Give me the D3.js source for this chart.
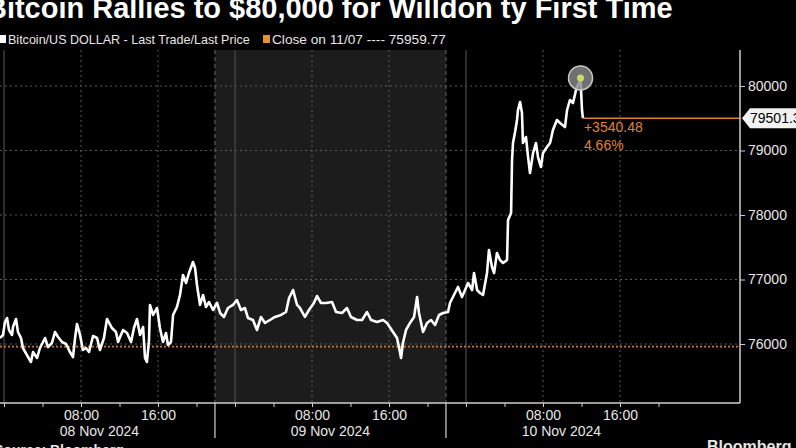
<!DOCTYPE html>
<html><head><meta charset="utf-8">
<script src="https://cdn.jsdelivr.net/npm/d3@7"></script>
<style>html,body{margin:0;padding:0;background:#000;overflow:hidden}</style>
</head><body><svg id="c" width="796" height="448"></svg>
<script>
const title = "Bitcoin Rallies to $80,000 for Willdon ty First Time";
const seriesName = "Bitcoin/US DOLLAR - Last Trade/Last Price";
const closeLabel = "Close on 11/07 ---- 75959.77";
const closeValue = 75959.77;
const changeAbs = "+3540.48";
const changePct = "4.66%";
const yTicks = [76000, 77000, 78000, 79000, 80000];
const dayLabels = ["08 Nov 2024", "09 Nov 2024", "10 Nov 2024"];
const dayStarts = ["2024-11-07T21:55:00Z", "2024-11-08T21:55:00Z", "2024-11-09T21:55:00Z"];
const dayEnds = ["2024-11-08T21:55:00Z", "2024-11-09T21:55:00Z", "2024-11-10T21:55:00Z"];
const shadedDay = 1;
const startISO = "2024-11-08T00:00:00Z";
const minutes = [-25,-6,6,19,31,50,56,75,87,106,118,143,168,181,206,224,256,274,299,318,337,362,387,411,430,443,455,474,492,511,530,555,580,598,623,642,673,698,711,742,767,792,810,829,848,867,879,891,904,910,929,954,972,991,1010,1022,1041,1054,1078,1097,1116,1135,1153,1178,1191,1203,1222,1241,1259,1278,1303,1328,1347,1371,1396,1427,1452,1477,1502,1521,1552,1577,1602,1627,1658,1689,1727,1758,1777,1802,1827,1845,1876,1901,1932,1951,1976,2007,2045,2070,2107,2138,2163,2201,2232,2263,2288,2325,2363,2388,2425,2450,2462,2475,2487,2506,2531,2556,2575,2587,2612,2637,2662,2687,2712,2737,2768,2780,2811,2830,2855,2874,2893,2918,2930,2949,2967,2986,3011,3023,3042,3055,3073,3092,3111,3136,3142,3161,3167,3173,3186,3198,3204,3217,3229,3235,3254,3267,3279,3298,3316,3329,3347,3360,3385,3404,3422,3447,3466,3497,3510,3528,3547,3566,3578,3594,3603,3609];
const prices = [76093,76140,76341,76403,76217,76140,76264,76388,76186,76093,75938,75829,75721,75876,75783,75938,76093,75953,76016,76186,76109,76031,76000,75876,75798,76093,76310,76140,75907,75938,75876,76124,76093,75907,76093,76388,76248,76186,76031,76217,76171,76031,76248,76388,76140,76264,75783,75721,76062,76605,76450,76558,76248,76031,76171,75984,76031,76450,76574,76760,77070,76946,77101,77271,77178,76915,76605,76760,76574,76651,76527,76636,76481,76419,76558,76605,76682,76527,76558,76403,76372,76217,76419,76326,76372,76419,76450,76496,76713,76837,76605,76558,76419,76527,76636,76744,76636,76636,76651,76496,76481,76558,76419,76372,76372,76496,76372,76341,76372,76326,76186,76093,75953,75783,76016,76217,76326,76419,76729,76481,76186,76326,76372,76295,76450,76481,76496,76636,76791,76884,76729,76837,76946,76837,77101,76837,76791,76760,77101,77457,77194,77101,77411,77302,77256,77302,77922,78031,78853,79116,79287,79473,79628,79752,79581,79116,79209,78899,78651,78961,79116,78899,78744,78961,79054,79116,79318,79473,79426,79364,79628,79783,79736,79938,80016,80110,79628,79501.35];

const svg = d3.select("#c");
const W = 796, H = 448;
const plotL = 0, plotR = 740, plotT = 50, plotB = 403;
const t0 = new Date(startISO);
const addMin = (m) => new Date(t0.getTime() + m * 60000);

const x = d3.scaleUtc().domain([t0, addMin(72 * 60)]).range([4, 697]);
const y = d3.scaleLinear().domain([76000, 80000]).range([344, 86]);

const n = Math.min(minutes.length, prices.length);
const data = d3.range(n).map(i => ({t: addMin(minutes[i]), v: prices[i]}));
const FONT = "Liberation Sans, Arial, sans-serif";

svg.append("rect").attr("width", W).attr("height", H).attr("fill", "#000");

// shaded day
svg.append("rect")
  .attr("x", x(new Date(dayStarts[shadedDay]))).attr("y", plotT)
  .attr("width", x(new Date(dayEnds[shadedDay])) - x(new Date(dayStarts[shadedDay])))
  .attr("height", plotB - plotT).attr("fill", "#1c1c1c");

// grid
const g = svg.append("g");
g.selectAll(".hg").data(yTicks).join("line")
  .attr("x1", plotL).attr("x2", plotR).attr("y1", d => y(d)).attr("y2", d => y(d))
  .attr("stroke", "#5a5a5a").attr("stroke-width", 1).attr("stroke-dasharray", "2,3");

const hourTicks = x.ticks(d3.utcHour.every(4)).filter(d => x(d) <= 660);
g.selectAll(".vg").data(hourTicks.filter(d => d.getUTCHours() === 8 || d.getUTCHours() === 16)).join("line")
  .attr("x1", d => x(d)).attr("x2", d => x(d)).attr("y1", plotT).attr("y2", plotB)
  .attr("stroke", "#5a5a5a").attr("stroke-dasharray", "2,3");
g.selectAll(".vm").data(hourTicks.filter(d => d.getUTCHours() === 0)).join("line")
  .attr("x1", d => x(d)).attr("x2", d => x(d)).attr("y1", plotT).attr("y2", plotB)
  .attr("stroke", "#4a4a4a").attr("stroke-width", 1.2);

// day separators
const seps = [dayEnds[0], dayEnds[1]].map(s => x(new Date(s)));
g.selectAll(".sep").data(seps).join("line")
  .attr("x1", d => d).attr("x2", d => d).attr("y1", plotT).attr("y2", plotB)
  .attr("stroke", "#666").attr("stroke-dasharray", "4,3");
g.selectAll(".sep2").data(seps).join("line")
  .attr("x1", d => d).attr("x2", d => d).attr("y1", plotB).attr("y2", 438)
  .attr("stroke", "#aaa").attr("stroke-width", 1.5);

// close reference line
svg.append("line").attr("x1", plotL).attr("x2", plotR)
  .attr("y1", y(closeValue)).attr("y2", y(closeValue))
  .attr("stroke", "#c9782e").attr("stroke-width", 1.6).attr("stroke-dasharray", "2,2");

// series
svg.append("path").datum(data)
  .attr("d", d3.line().x(d => x(d.t)).y(d => y(d.v)))
  .attr("fill", "none").attr("stroke", "#fff").attr("stroke-width", 2.6)
  .attr("stroke-linejoin", "round");

// last value line
const last = data[n - 1];
svg.append("line").attr("x1", x(last.t)).attr("x2", plotR)
  .attr("y1", y(last.v)).attr("y2", y(last.v))
  .attr("stroke", "#d9822b").attr("stroke-width", 1.5);

svg.append("text").attr("x", x(last.t) + 1).attr("y", y(last.v) + 14)
  .attr("fill", "#e0842c").attr("font-family", FONT)
  .attr("font-size", 14).text(changeAbs);
svg.append("text").attr("x", x(last.t) + 1).attr("y", y(last.v) + 32)
  .attr("fill", "#e0842c").attr("font-family", FONT)
  .attr("font-size", 14).text(changePct);

// peak marker
const peak = data.reduce((a, b) => b.v > a.v ? b : a);
svg.append("circle").attr("cx", x(peak.t)).attr("cy", y(peak.v) - 1).attr("r", 12)
  .attr("fill", "rgba(140,140,140,0.8)").attr("stroke", "#c8c8c8").attr("stroke-width", 1.5);
svg.append("circle").attr("cx", x(peak.t)).attr("cy", y(peak.v) - 1).attr("r", 3.5)
  .attr("fill", "#c9dc6a");

// axes lines
svg.append("line").attr("x1", plotL).attr("x2", plotR).attr("y1", plotB).attr("y2", plotB)
  .attr("stroke", "#cfcfcf").attr("stroke-width", 1.5);
svg.append("line").attr("x1", plotR).attr("x2", plotR).attr("y1", plotT).attr("y2", plotB)
  .attr("stroke", "#cfcfcf").attr("stroke-width", 1.5);

// right axis
const yAxis = d3.axisRight(y).tickValues(yTicks).tickSize(5).tickPadding(3).tickFormat(d3.format("d"));
const ya = svg.append("g").attr("transform", `translate(${plotR},0)`).call(yAxis);
ya.select(".domain").remove();
ya.selectAll("line").attr("stroke", "#cfcfcf");
ya.selectAll("text").attr("fill", "#e6e6e6").attr("font-size", 14).attr("font-family", FONT);

// last value tag
const ly = y(last.v);
svg.append("path")
  .attr("d", `M${plotR + 2},${ly} L${plotR + 10},${ly - 10} L${W + 5},${ly - 10} L${W + 5},${ly + 10} L${plotR + 10},${ly + 10} Z`)
  .attr("fill", "#f2f2f2");
svg.append("text").attr("x", plotR + 10).attr("y", ly + 5).attr("fill", "#000")
  .attr("font-size", 14).attr("font-family", FONT)
  .text(d3.format(".2f")(last.v));

// bottom axis
const xAxis = d3.axisBottom(x).tickValues(hourTicks).tickSize(4)
  .tickFormat(d => (d.getUTCHours() === 8 || d.getUTCHours() === 16) ? d3.utcFormat("%H:%M")(d) : "");
const xa = svg.append("g").attr("transform", `translate(0,${plotB})`).call(xAxis);
xa.select(".domain").remove();
xa.selectAll("line").attr("stroke", "#cfcfcf");
xa.selectAll("text").attr("fill", "#e6e6e6").attr("font-size", 14).attr("dy", "0.7em")
  .attr("font-family", FONT);

svg.selectAll(".dl").data(dayLabels).join("text")
  .attr("x", (d, i) => (x(new Date(dayStarts[i])) + x(new Date(dayEnds[i]))) / 2)
  .attr("y", 436).attr("text-anchor", "middle").attr("fill", "#e6e6e6")
  .attr("font-size", 14).attr("font-family", FONT)
  .text(d => d);

// fit helper
function fit(sel, target) {
  const w = sel.node().getComputedTextLength();
  const fs = parseFloat(sel.attr("font-size"));
  sel.attr("font-size", fs * target / w);
}

// title
const tt = svg.append("text").attr("x", -14).attr("y", 18).attr("fill", "#fff")
  .attr("font-weight", "bold").attr("font-size", 24)
  .attr("font-family", FONT).text(title);
fit(tt, 687);

// legend
svg.append("rect").attr("x", 0).attr("y", 35).attr("width", 6).attr("height", 8).attr("fill", "#fff");
const l1 = svg.append("text").attr("x", 8).attr("y", 44).attr("fill", "#e6e6e6")
  .attr("font-size", 13).attr("font-family", FONT).text(seriesName);
fit(l1, 242);
svg.append("rect").attr("x", 263).attr("y", 35).attr("width", 7).attr("height", 8).attr("fill", "#e8902a");
const l2 = svg.append("text").attr("x", 272).attr("y", 44).attr("fill", "#e6e6e6")
  .attr("font-size", 13).attr("font-family", FONT).text(closeLabel);
fit(l2, 174);

// footer
svg.append("text").attr("x", -6).attr("y", 455).attr("fill", "#e6e6e6").attr("font-weight", "bold")
  .attr("font-size", 14).attr("font-family", FONT).text("Source: Bloomberg");
svg.append("text").attr("x", 707).attr("y", 452).attr("fill", "#e6e6e6").attr("font-weight", "bold")
  .attr("font-size", 16).attr("font-family", FONT).text("Bloomberg");
</script></body></html>
